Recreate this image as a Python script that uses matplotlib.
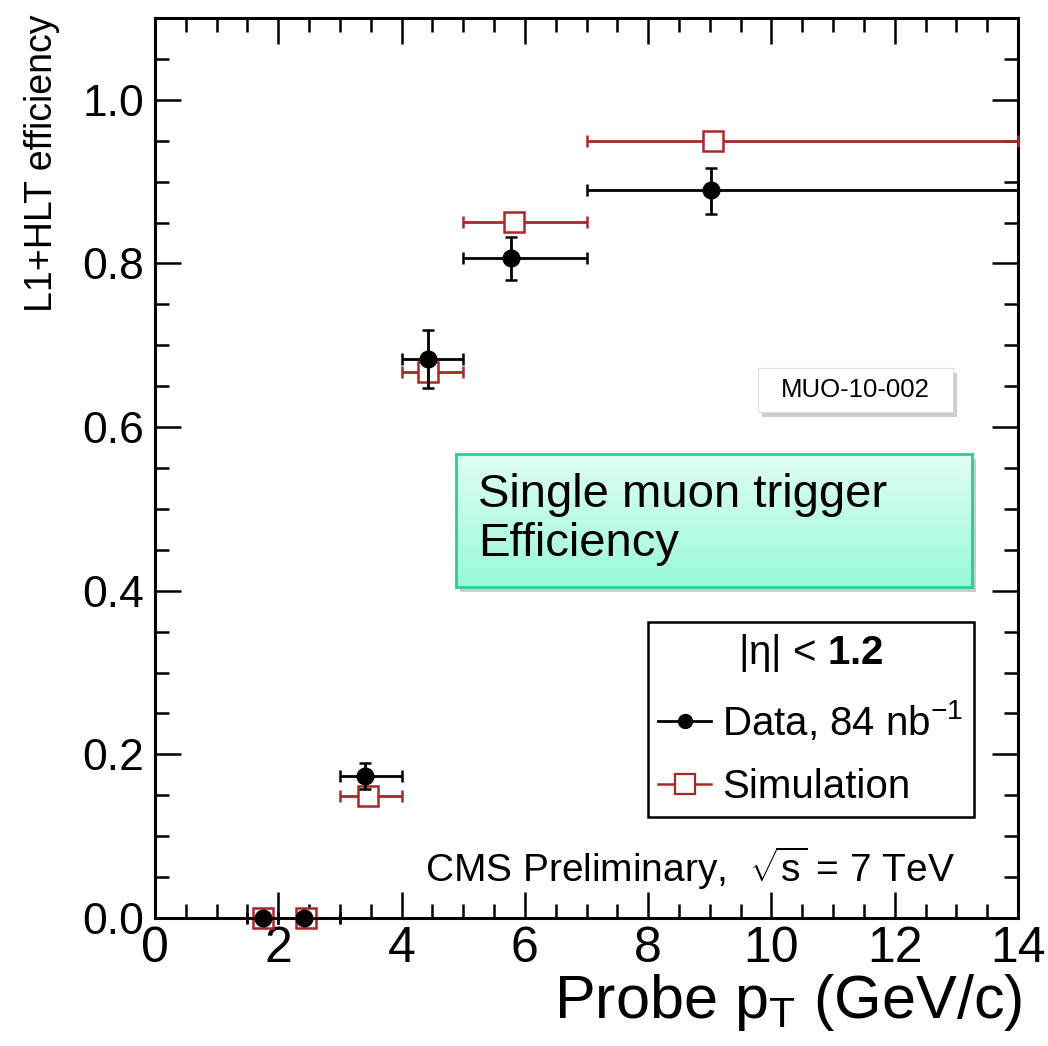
import numpy as np
import matplotlib
matplotlib.use("Agg")
import matplotlib.pyplot as plt
from matplotlib.lines import Line2D
from matplotlib.patches import Rectangle

ROOT_FONT = "Liberation Sans"

plt.rcParams["font.family"] = ROOT_FONT
plt.rcParams["mathtext.fontset"] = "custom"
plt.rcParams["mathtext.rm"] = ROOT_FONT
plt.rcParams["mathtext.it"] = ROOT_FONT
plt.rcParams["mathtext.bf"] = ROOT_FONT + ":bold"

# probe pT bins (GeV/c)
bin_lo = [1.5, 2.0, 3.0, 4.0, 5.0, 7.0]
bin_hi = [2.0, 3.0, 4.0, 5.0, 7.0, 14.0]

# data, 84 nb^-1
pt_data = [1.75, 2.42, 3.40, 4.43, 5.78, 9.02]
eff_data = [0.0, 0.0, 0.173, 0.683, 0.807, 0.890]
err_data_lo = [0.0, 0.0, 0.015, 0.035, 0.027, 0.029]
err_data_hi = [0.0, 0.0, 0.017, 0.036, 0.025, 0.027]

# simulation
pt_sim = [1.75, 2.45, 3.45, 4.43, 5.82, 9.05]
eff_sim = [0.0, 0.0, 0.149, 0.667, 0.851, 0.950]
err_sim = [0.0, 0.0, 0.004, 0.005, 0.004, 0.003]

RED = "#a82828"
W, H = 1048, 1046


def fx(px):
    return px / W


def fy(py):
    return 1 - py / H


def shadow_box(x0, y0, x1, y1, face, edge, lw):
    # drop shadow first, then the box itself (pixel coords, y down)
    sh = Rectangle((fx(x0 + 4), fy(y1 + 5)), (x1 - x0) / W, (y1 - y0) / H,
                   transform=fig.transFigure, facecolor="#9a9a9a", alpha=0.5,
                   edgecolor="none", zorder=9)
    fig.add_artist(sh)
    ax_box = fig.add_axes([fx(x0), fy(y1), (x1 - x0) / W, (y1 - y0) / H], zorder=10)
    if isinstance(face, np.ndarray):
        ax_box.imshow(face, aspect="auto", extent=[0, 1, 0, 1], origin="upper")
    else:
        ax_box.set_facecolor(face)
    ax_box.set_xlim(0, 1)
    ax_box.set_ylim(0, 1)
    ax_box.set_xticks([])
    ax_box.set_yticks([])
    for s in ax_box.spines.values():
        s.set_color(edge)
        s.set_linewidth(lw)
    return ax_box


fig = plt.figure(figsize=(W / 100, H / 100), dpi=100)
ax = fig.add_axes([fx(155), fy(918), (1018 - 155) / W, (918 - 18) / H])

xerr_data = [np.subtract(pt_data, bin_lo), np.subtract(bin_hi, pt_data)]
xerr_sim = [np.subtract(pt_sim, bin_lo), np.subtract(bin_hi, pt_sim)]

ax.errorbar(pt_sim, eff_sim, xerr=xerr_sim, yerr=err_sim, fmt="s",
            ms=15, mfc="white", mec=RED, mew=1.8, ecolor=RED,
            elinewidth=2.0, capsize=4, capthick=1.8, clip_on=False, zorder=5)
ax.errorbar(pt_data, eff_data, xerr=xerr_data, yerr=[err_data_lo, err_data_hi],
            fmt="o", ms=12, color="black", elinewidth=2.0, capsize=4,
            capthick=1.8, clip_on=False, zorder=6)

ax.set_xlim(0, 14)
ax.set_ylim(0, 1.1)
ax.set_xticks(np.arange(0, 15, 2))
ax.set_xticks(np.arange(0, 14.01, 0.5), minor=True)
ax.set_yticks(np.arange(0, 1.01, 0.2))
ax.set_yticks(np.arange(0, 1.101, 0.05), minor=True)
ax.set_yticklabels([f"{v:.1f}" for v in np.arange(0, 1.01, 0.2)])

ax.tick_params(which="both", direction="in", top=True, right=True, width=1.8)
ax.tick_params(which="major", length=19)
ax.tick_params(which="minor", length=10)
ax.tick_params(axis="x", which="major", labelsize=36, pad=6)
ax.tick_params(axis="y", which="major", labelsize=32, pad=8)
for s in ax.spines.values():
    s.set_linewidth(2.2)

ax.set_xlabel(r"Probe p$_{\rm T}$ (GeV/c)", fontsize=44, loc="right")
ax.xaxis.set_label_coords(1.0 + 4 / 863, -(972 - 918) / 900)
ax.set_ylabel("L1+HLT efficiency", fontsize=27, loc="top")
ax.yaxis.set_label_coords(-(155 - 60) / 863, 1.0 + 3 / 900)

# legend
handles = [
    Line2D([], [], color="black", marker="o", ms=10, lw=2),
    Line2D([], [], color=RED, marker="s", ms=14, mfc="white", mec=RED, mew=1.6, lw=1.8),
]
leg = ax.legend(handles, [r"Data, 84 nb$^{-1}$", "Simulation"],
                title=r"|η| < $\mathbf{1.2}$",
                loc="upper left", bbox_to_anchor=((648 - 155) / 863, (918 - 622) / 900),
                borderaxespad=0, fancybox=False, framealpha=1, edgecolor="black",
                fontsize=29, title_fontsize=29, handlelength=1.3, handletextpad=0.28,
                labelspacing=0.62, borderpad=0.26)
leg.get_frame().set_linewidth(1.8)

ax.text((955 - 155) / 863, (918 - 882) / 900, r"CMS Preliminary,  $\sqrt{s}$ = 7 TeV",
        transform=ax.transAxes, ha="right", va="baseline", fontsize=28)

# annotation boxes laid over the plot
muo = shadow_box(758, 368, 953, 412, "white", "#dddddd", 0.8)
muo.text(0.5, 0.5, "MUO-10-002", ha="center", va="center", fontsize=18.5)

top_c = np.array([0.88, 0.995, 0.955])
bot_c = np.array([0.60, 0.98, 0.85])
t = np.linspace(0, 1, 128)[:, None, None]
grad = (top_c * (1 - t) + bot_c * t).repeat(2, axis=1)
box = shadow_box(456, 454, 972, 587, grad, "#2ecb98", 2.0)
box.text(0.043, 0.507, "Single muon trigger\nEfficiency", ha="left", va="center",
         fontsize=34, linespacing=1.17)

fig.savefig("out.png", dpi=100)
